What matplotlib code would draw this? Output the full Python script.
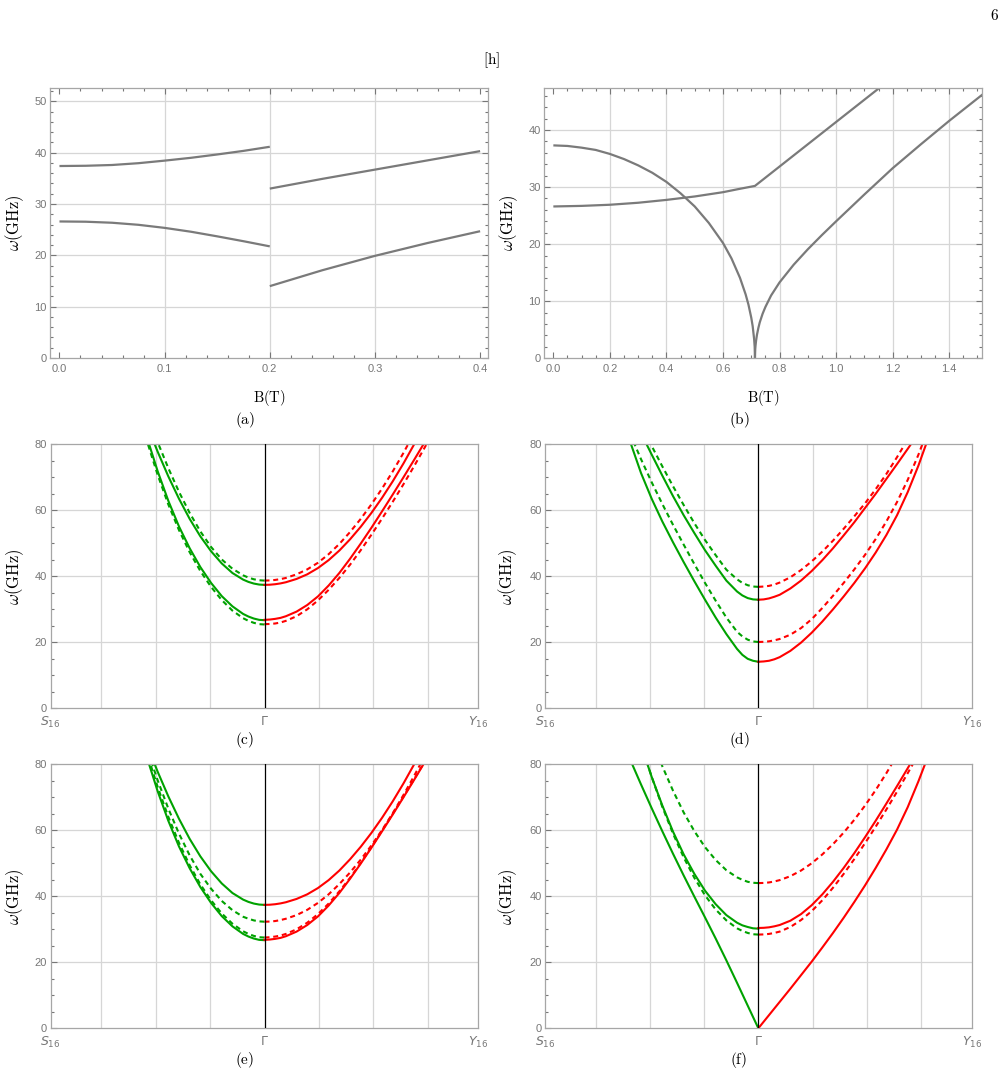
import numpy as np
import matplotlib
matplotlib.use("Agg")
import matplotlib.pyplot as plt
from matplotlib.ticker import MultipleLocator, FormatStrFormatter

plt.rcParams['font.family'] = ['Liberation Sans', 'DejaVu Sans']
plt.rcParams['mathtext.fontset'] = 'cm'

W, H = 1007, 1076

# ---------- (a) frequencies vs field ----------
a_B_low = [0, 0.025, 0.05, 0.075, 0.1, 0.125, 0.15, 0.175, 0.2]
a_up_low = [37.4, 37.45, 37.6, 37.95, 38.45, 39.0, 39.65, 40.35, 41.15]
a_dn_low = [26.6, 26.55, 26.35, 25.95, 25.35, 24.6, 23.7, 22.75, 21.75]
a_B_high = [0.2, 0.25, 0.3, 0.35, 0.4]
a_up_high = [33.0, 34.9, 36.7, 38.5, 40.3]
a_dn_high = [14.0, 17.1, 19.9, 22.4, 24.7]

# ---------- (b) ----------
b_B1 = [0, 0.05, 0.1, 0.15, 0.2, 0.25, 0.3, 0.35, 0.4, 0.45, 0.5, 0.55, 0.6,
        0.63, 0.66, 0.68, 0.69, 0.70, 0.705, 0.71, 0.712, 0.713]
b_w1 = [37.3, 37.2, 36.9, 36.5, 35.8, 34.9, 33.8, 32.5, 30.9, 28.9, 26.6, 23.7, 20.2,
        17.5, 14.1, 11.2, 9.4, 7.1, 5.6, 3.4, 2.0, 0.0]
b_B2 = [0, 0.1, 0.2, 0.3, 0.4, 0.5, 0.6, 0.65, 0.713, 1.0, 1.2]
b_w2 = [26.6, 26.7, 26.9, 27.25, 27.75, 28.35, 29.1, 29.6, 30.2, 41.4, 49.2]
b_B3 = [0.713, 0.714, 0.715, 0.717, 0.72, 0.725, 0.73, 0.74, 0.75, 0.77, 0.8, 0.85,
        0.9, 0.95, 1.0, 1.1, 1.2, 1.3, 1.4, 1.52]
b_w3 = [0.0, 1.6, 2.2, 3.1, 4.1, 5.3, 6.3, 7.8, 9.0, 11.0, 13.3, 16.4,
        19.1, 21.6, 24.0, 28.7, 33.3, 37.5, 41.6, 46.3]

# ---------- (c)-(f) dispersion: Gamma->S (green, left) and Gamma->Y (red, right) ----------
kS = [0, 0.025, 0.05, 0.075, 0.1, 0.15, 0.2, 0.25, 0.3, 0.35, 0.4, 0.45, 0.5, 0.55, 0.6]
kY = kS + [0.65, 0.7, 0.75, 0.8]
k_labels = [r'$S_{16}$', r'$\Gamma$', r'$Y_{16}$']

# solid branches shared by (c) and (e)
ce_S_up = [37.4, 37.5, 37.8, 38.3, 39.0, 41.0, 43.9, 47.6, 52.1, 57.4, 63.5, 70.3, 77.8, 85.9, 94.6]
ce_S_lo = [26.7, 26.8, 27.2, 27.8, 28.6, 30.9, 34.0, 38.0, 42.8, 48.5, 55.1, 62.9, 71.9, 82.1, 93.3]
ce_Y_up = [37.4, 37.45, 37.6, 37.85, 38.2, 39.2, 40.6, 42.5, 44.9, 47.8, 51.2, 55.0, 59.2, 63.8,
           68.8, 74.2, 80.0, 86.1, 92.5]
ce_Y_lo = [26.8, 26.9, 27.1, 27.4, 27.9, 29.3, 31.3, 33.9, 37.2, 41.0, 45.3, 49.9, 54.7, 59.7,
           64.8, 70.0, 75.3, 80.7, 86.2]

c_S_up_d = [38.7, 38.8, 39.1, 39.6, 40.3, 42.3, 45.1, 48.9, 53.6, 59.2, 65.6, 72.8, 80.7, 89.2, 98.3]
c_S_lo_d = [25.4, 25.5, 25.9, 26.5, 27.3, 29.6, 32.8, 36.8, 41.6, 47.3, 54.0, 61.8, 70.8, 81.0, 92.3]
c_Y_up_d = [38.7, 38.75, 38.9, 39.15, 39.5, 40.6, 42.1, 44.1, 46.7, 49.8, 53.4, 57.4, 61.8, 66.6,
            71.8, 77.4, 83.4, 89.7, 96.3]
c_Y_lo_d = [25.5, 25.55, 25.7, 26.0, 26.5, 27.9, 30.0, 32.7, 35.9, 39.5, 43.5, 47.9, 52.6, 57.5,
            62.6, 67.9, 73.4, 79.1, 85.0]

d_S_up = [32.9, 33.0, 33.4, 34.2, 35.4, 38.7, 43.2, 47.9, 53.1, 58.5, 64.3, 70.5, 76.9, 83.4, 90.0]
d_S_lo = [14.1, 14.4, 15.0, 16.2, 18.0, 22.5, 27.5, 32.9, 38.5, 44.3, 50.3, 56.6, 63.5, 71.3, 80.6]
d_S_up_d = [36.8, 36.9, 37.3, 38.0, 39.1, 42.0, 46.4, 51.0, 56.1, 61.6, 67.3, 73.3, 79.5, 85.8, 92.3]
d_S_lo_d = [20.1, 20.25, 20.8, 21.8, 23.2, 27.5, 32.6, 38.0, 43.7, 49.6, 55.6, 61.9, 68.5, 75.5, 83.0]
d_Y_up = [32.9, 33.0, 33.3, 33.8, 34.4, 36.3, 38.7, 41.6, 44.9, 48.5, 52.4, 56.4, 60.7, 65.0,
          69.5, 74.0, 78.6, 83.3, 88.0]
d_Y_lo = [14.1, 14.2, 14.4, 14.85, 15.5, 17.4, 19.9, 22.9, 26.3, 30.0, 33.9, 38.0, 42.4, 47.2,
          52.5, 58.5, 65.5, 73.5, 82.5]
d_Y_up_d = [36.8, 36.9, 37.1, 37.5, 38.1, 39.7, 41.9, 44.5, 47.5, 50.8, 54.4, 58.2, 62.1, 66.4,
            71.0, 76.1, 81.5, 86.8, 92.0]
d_Y_lo_d = [20.1, 20.15, 20.3, 20.6, 21.0, 22.3, 24.3, 27.0, 30.4, 34.1, 38.0, 42.1, 46.5, 51.3,
            56.6, 62.5, 69.2, 76.8, 85.3]

e_S_up_d = [32.3, 32.4, 32.7, 33.2, 33.8, 35.8, 38.6, 42.3, 46.8, 52.4, 59.0, 66.6, 75.2, 84.8, 95.2]
e_S_lo_d = [27.5, 27.6, 28.0, 28.6, 29.4, 31.7, 34.8, 38.8, 43.6, 49.4, 56.2, 64.1, 73.2, 83.4, 94.7]
e_Y_up_d = [32.3, 32.35, 32.5, 32.8, 33.2, 34.3, 35.9, 38.0, 40.6, 43.7, 47.2, 51.1, 55.4, 60.1,
            65.2, 70.7, 76.5, 82.6, 89.0]
e_Y_lo_d = [27.5, 27.6, 27.8, 28.1, 28.6, 30.0, 32.0, 34.6, 37.8, 41.5, 45.6, 50.1, 54.9, 59.9,
            65.0, 70.2, 75.5, 80.9, 86.4]

f_S_up = [30.2, 30.3, 30.7, 31.2, 32.0, 34.3, 37.6, 41.7, 46.8, 52.7, 59.6, 67.5, 76.2, 85.8, 96.4]
f_S_lo = [0.0, 3.45, 6.9, 10.35, 13.8, 20.6, 27.2, 33.6, 39.9, 46.3, 52.9, 59.7, 66.7, 73.9, 81.3]
f_S_up_d = [44.0, 44.1, 44.4, 45.0, 45.75, 47.9, 51.0, 54.9, 59.75, 65.4, 72.0, 79.4, 87.75, 96.9, 107.0]
f_S_lo_d = [28.4, 28.5, 28.9, 29.5, 30.3, 32.7, 36.0, 40.3, 45.6, 51.8, 59.0, 67.1, 76.2, 86.2, 97.2]
f_Y_up = [30.4, 30.45, 30.6, 30.9, 31.3, 32.6, 34.6, 37.3, 40.6, 44.4, 48.6, 53.1, 57.9, 62.9,
          68.1, 73.4, 78.8, 84.3, 89.9]
f_Y_lo = [0.0, 2.0, 4.0, 6.0, 8.0, 12.0, 16.1, 20.2, 24.5, 28.9, 33.5, 38.3, 43.3, 48.6,
          54.2, 60.2, 67.0, 74.8, 83.2]
f_Y_up_d = [44.0, 44.05, 44.2, 44.5, 44.9, 46.1, 47.8, 50.0, 52.7, 55.8, 59.3, 63.2, 67.5, 72.2,
            77.3, 82.8, 88.7, 95.0, 101.5]
f_Y_lo_d = [28.4, 28.45, 28.6, 28.9, 29.3, 30.7, 32.8, 35.5, 38.8, 42.6, 46.8, 51.3, 56.1, 61.1,
            66.3, 71.7, 77.3, 83.0, 88.8]

GRAY = '#7a7a7a'
GREEN = '#00a200'
RED = '#ff0000'
FRAME = '#a6a6a6'
TICKC = '#777777'
GRID = '#d6d6d6'


def box(l, t, r, b):
    return [l / W, 1 - b / H, (r - l) / W, (b - t) / H]


def px(x, y):
    return x / W, 1 - y / H


fig = plt.figure(figsize=(W / 100, H / 100), dpi=100)


def frame(ax):
    for s in ax.spines.values():
        s.set_color(FRAME)
        s.set_linewidth(0.9)


def field_panel(ax, xlim, ylim, xmaj, xmin, ymaj, ymin, xgrid, ygrid):
    frame(ax)
    ax.set_xlim(*xlim)
    ax.set_ylim(*ylim)
    ax.xaxis.set_major_locator(MultipleLocator(xmaj))
    ax.xaxis.set_minor_locator(MultipleLocator(xmin))
    ax.yaxis.set_major_locator(MultipleLocator(ymaj))
    ax.yaxis.set_minor_locator(MultipleLocator(ymin))
    ax.xaxis.set_major_formatter(FormatStrFormatter('%.1f'))
    ax.tick_params(which='both', direction='in', top=True, right=True,
                   color=TICKC, labelcolor=TICKC, labelsize=8, width=0.8)
    ax.tick_params(which='major', length=4)
    ax.tick_params(which='minor', length=2.3)
    ax.tick_params(axis='x', pad=4)
    ax.tick_params(axis='y', pad=2.5)
    for g in xgrid:
        ax.axvline(g, color=GRID, lw=0.9, zorder=0)
    for g in ygrid:
        ax.axhline(g, color=GRID, lw=0.9, zorder=0)


# (a)
ax = fig.add_axes(box(50, 88, 488, 358))
field_panel(ax, (-0.009, 0.4075), (0, 52.6), 0.1, 0.02, 10, 2,
            [0.1, 0.2, 0.3], [10, 20, 30, 40, 50])
for xs, ys in [(a_B_low, a_up_low), (a_B_low, a_dn_low),
               (a_B_high, a_up_high), (a_B_high, a_dn_high)]:
    ax.plot(xs, ys, color=GRAY, lw=1.6, solid_capstyle='butt')

# (b)
ax = fig.add_axes(box(544.3, 88.3, 982.3, 358.3))
field_panel(ax, (-0.032, 1.517), (0, 47.3), 0.2, 0.05, 10, 2,
            [0.2, 0.4, 0.6, 0.8, 1.0, 1.2, 1.4], [10, 20, 30, 40])
for xs, ys in [(b_B1, b_w1), (b_B2, b_w2), (b_B3, b_w3)]:
    ax.plot(xs, ys, color=GRAY, lw=1.6, solid_capstyle='butt')

for x0 in (14.5, 509):
    fig.text(*px(x0, 223), r'$\omega(\mathrm{GHz})$', rotation=90,
             ha='center', va='center', fontsize=12)
fig.text(*px(269, 398), r'$\mathrm{B(T)}$', ha='center', va='center', fontsize=10.5)
fig.text(*px(763, 398), r'$\mathrm{B(T)}$', ha='center', va='center', fontsize=10.5)

# (c)-(f)
panels = [
    ((50.7, 444.3, 478.3, 708.3),
     [(ce_S_up, '-'), (ce_S_lo, '-'), (c_S_up_d, '--'), (c_S_lo_d, '--')],
     [(ce_Y_up, '-'), (ce_Y_lo, '-'), (c_Y_up_d, '--'), (c_Y_lo_d, '--')]),
    ((545, 444.3, 971.7, 708.3),
     [(d_S_up, '-'), (d_S_lo, '-'), (d_S_up_d, '--'), (d_S_lo_d, '--')],
     [(d_Y_up, '-'), (d_Y_lo, '-'), (d_Y_up_d, '--'), (d_Y_lo_d, '--')]),
    ((50.7, 764.3, 478.3, 1028.3),
     [(ce_S_up, '-'), (ce_S_lo, '-'), (e_S_up_d, '--'), (e_S_lo_d, '--')],
     [(ce_Y_up, '-'), (ce_Y_lo, '-'), (e_Y_up_d, '--'), (e_Y_lo_d, '--')]),
    ((545, 764.3, 971.7, 1028.3),
     [(f_S_up, '-'), (f_S_lo, '-'), (f_S_up_d, '--'), (f_S_lo_d, '--')],
     [(f_Y_up, '-'), (f_Y_lo, '-'), (f_Y_up_d, '--'), (f_Y_lo_d, '--')]),
]

for (l, t, r, b), green, red in panels:
    ax = fig.add_axes(box(l, t, r, b))
    frame(ax)
    ax.set_xlim(-1, 1)
    ax.set_ylim(0, 80)
    ax.set_xticks([-1, 0, 1])
    ax.set_xticklabels(k_labels, math_fontfamily='dejavusans')
    ax.yaxis.set_major_locator(MultipleLocator(20))
    ax.yaxis.set_minor_locator(MultipleLocator(5))
    ax.tick_params(axis='x', length=0, pad=5, labelsize=9, labelcolor=TICKC)
    ax.tick_params(axis='y', which='both', direction='in', color=TICKC,
                   labelcolor=TICKC, labelsize=8, width=0.8, pad=2.5)
    ax.tick_params(axis='y', which='major', length=4)
    ax.tick_params(axis='y', which='minor', length=2.3)
    for g in [-0.763, -0.509, -0.255, 0.255, 0.509, 0.763]:
        ax.axvline(g, color=GRID, lw=0.9, zorder=0)
    for g in [20, 40, 60]:
        ax.axhline(g, color=GRID, lw=0.9, zorder=0)
    for w, ls in green:
        line, = ax.plot(-np.array(kS), w, color=GREEN, lw=1.5)
        if ls == '--':
            line.set_dashes((2.4, 1.8))
    for w, ls in red:
        line, = ax.plot(kY, w, color=RED, lw=1.5)
        if ls == '--':
            line.set_dashes((2.4, 1.8))
    ax.axvline(0, color='black', lw=0.9, zorder=4)
    yc = (t + b) / 2
    xl = 14.5 if l < 100 else 508
    fig.text(*px(xl, yc), r'$\omega(\mathrm{GHz})$', rotation=90,
             ha='center', va='center', fontsize=12)

for lab, x, y in [('(a)', 245, 420), ('(b)', 739, 420), ('(c)', 245, 740),
                  ('(d)', 739, 740), ('(e)', 245, 1060), ('(f)', 739, 1060)]:
    fig.text(*px(x, y), r'$\mathrm{' + lab + '}$', ha='center', va='center', fontsize=11)

fig.text(*px(492, 60), r'$\mathrm{[h]}$', ha='center', va='center', fontsize=11)
fig.text(*px(995, 15), r'$\mathrm{6}$', ha='center', va='center', fontsize=11)

fig.savefig('out.png', dpi=100, facecolor='white')
